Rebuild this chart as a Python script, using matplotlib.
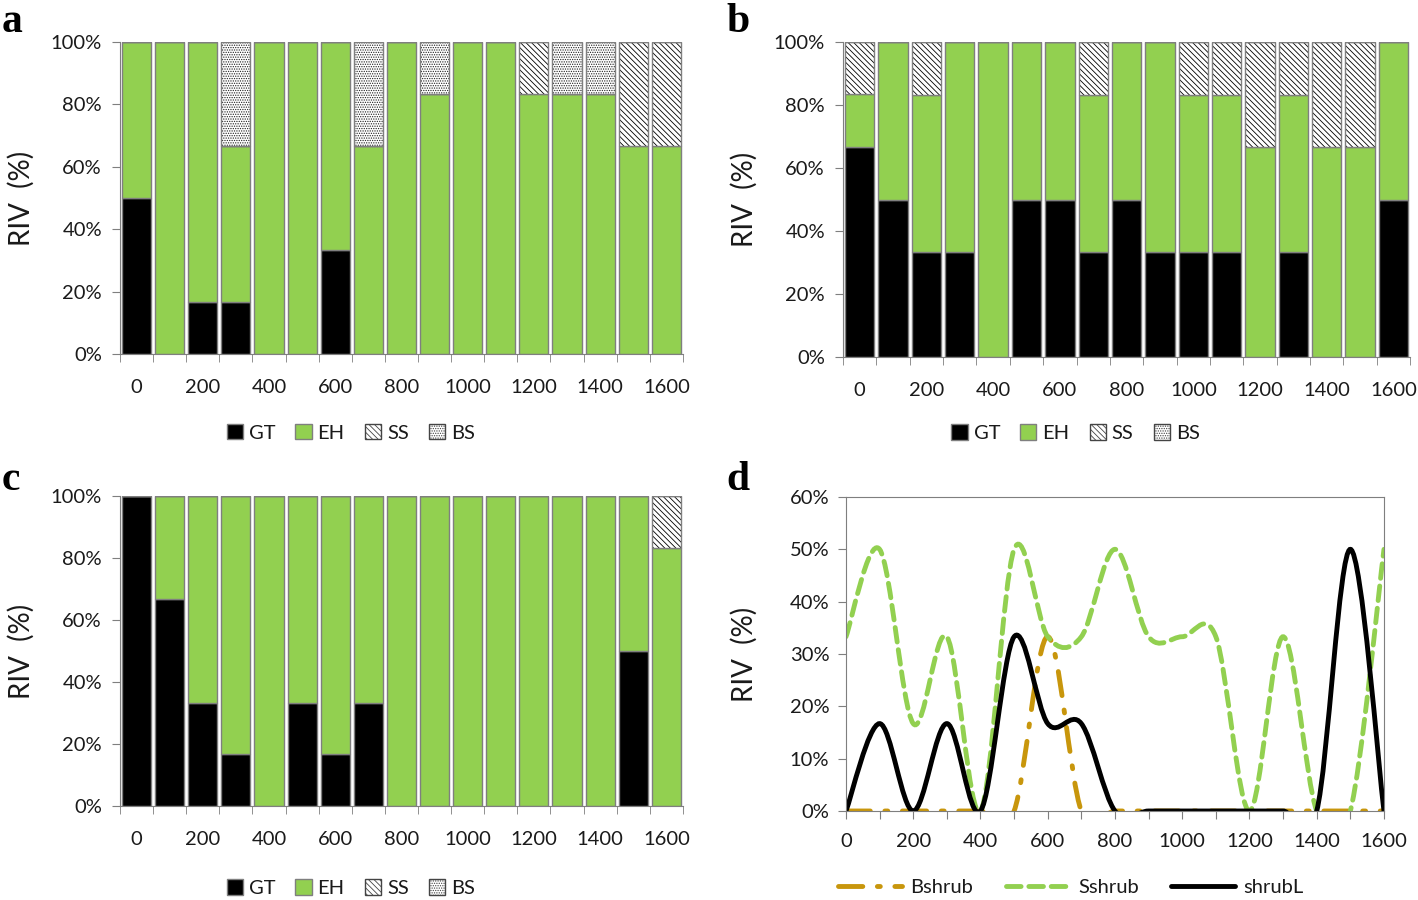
import numpy as np
import matplotlib
matplotlib.use("Agg")
import matplotlib.pyplot as plt
from matplotlib.path import Path
from matplotlib.patches import PathPatch
from matplotlib.lines import Line2D
from matplotlib.patches import Patch

plt.rcParams['font.family'] = ['Lato', 'DejaVu Sans']
plt.rcParams['hatch.linewidth'] = 0.6

# distance classes (0..1600 step 100)
distances = list(range(0, 1700, 100))
xlabels = [str(d) if d % 200 == 0 else '' for d in distances]

# panel a (RIV %)
a_GT = [50, 0, 16.7, 16.7, 0, 0, 33.3, 0, 0, 0, 0, 0, 0, 0, 0, 0, 0]
a_EH = [50, 100, 83.3, 50, 100, 100, 66.7, 66.7, 100, 83.3, 100, 100, 83.3, 83.3, 83.3, 66.7, 66.7]
a_SS = [0, 0, 0, 0, 0, 0, 0, 0, 0, 0, 0, 0, 16.7, 0, 0, 33.3, 33.3]
a_BS = [0, 0, 0, 33.3, 0, 0, 0, 33.3, 0, 16.7, 0, 0, 0, 16.7, 16.7, 0, 0]

# panel b
b_GT = [66.7, 50, 33.3, 33.3, 0, 50, 50, 33.3, 50, 33.3, 33.3, 33.3, 0, 33.3, 0, 0, 50]
b_EH = [16.7, 50, 50, 66.7, 100, 50, 50, 50, 50, 66.7, 50, 50, 66.7, 50, 66.7, 66.7, 50]
b_SS = [16.7, 0, 16.7, 0, 0, 0, 0, 16.7, 0, 0, 16.7, 16.7, 33.3, 16.7, 33.3, 33.3, 0]
b_BS = [0] * 17

# panel c
c_GT = [100, 66.7, 33.3, 16.7, 0, 33.3, 16.7, 33.3, 0, 0, 0, 0, 0, 0, 0, 50, 0]
c_EH = [0, 33.3, 66.7, 83.3, 100, 66.7, 83.3, 66.7, 100, 100, 100, 100, 100, 100, 100, 50, 83.3]
c_SS = [0] * 16 + [16.7]
c_BS = [0] * 17

# panel d (RIV %)
d_Bshrub = [0, 0, 0, 0, 0, 0, 33.3, 0, 0, 0, 0, 0, 0, 0, 0, 0, 0]
d_Sshrub = [33.3, 50, 16.7, 33.3, 0, 50, 33.3, 33.3, 50, 33.3, 33.3, 33.3, 0, 33.3, 0, 0, 50]
d_shrubL = [0, 16.7, 0, 16.7, 0, 33.3, 16.7, 16.7, 0, 0, 0, 0, 0, 0, 0, 50, 0]

GREEN = '#92D050'
GOLD = '#C8960C'
EDGE = '#7F7F7F'
TXT = '#1a1a1a'
SS_HATCH = '\\\\\\\\\\\\'
BS_HATCH = '.......'

fig = plt.figure(figsize=(14.18, 9), dpi=100)


def bar_panel(rect, GT, EH, SS, BS):
    ax = fig.add_axes(rect)
    x = np.arange(len(distances))
    w = 0.88
    ax.bar(x, GT, w, color='black', edgecolor=EDGE, linewidth=1)
    ax.bar(x, EH, w, bottom=GT, color=GREEN, edgecolor=EDGE, linewidth=1)
    bot = np.array(GT) + np.array(EH)
    ax.bar(x, SS, w, bottom=bot, color='white', edgecolor='black', hatch=SS_HATCH, linewidth=0)
    ax.bar(x, SS, w, bottom=bot, fill=False, edgecolor=EDGE, linewidth=1)
    bot2 = bot + np.array(SS)
    ax.bar(x, BS, w, bottom=bot2, color='white', edgecolor='#222222', hatch=BS_HATCH, linewidth=0)
    ax.bar(x, BS, w, bottom=bot2, fill=False, edgecolor=EDGE, linewidth=1)
    ax.set_xlim(-0.5, len(distances) - 0.5)
    ax.set_ylim(0, 100)
    ax.set_yticks(range(0, 101, 20))
    ax.set_yticklabels([f'{v}%' for v in range(0, 101, 20)])
    ax.set_xticks(x)
    ax.set_xticklabels(xlabels)
    ax.set_xticks(np.arange(-0.5, len(distances), 1), minor=True)
    ax.tick_params(axis='x', which='major', length=0, pad=18)
    ax.tick_params(axis='x', which='minor', length=6, color=EDGE, direction='out')
    ax.tick_params(axis='y', length=6, color=EDGE, pad=7)
    ax.tick_params(labelsize=14.5, labelcolor=TXT)
    for s in ['top', 'right']:
        ax.spines[s].set_visible(False)
    for s in ['left', 'bottom']:
        ax.spines[s].set_color(EDGE)
    ax.set_ylabel('RIV  (%)', fontsize=20, color=TXT)
    handles = [Patch(facecolor='black', edgecolor=EDGE),
               Patch(facecolor=GREEN, edgecolor=EDGE),
               Patch(facecolor='white', edgecolor='#444444', hatch=SS_HATCH),
               Patch(facecolor='white', edgecolor='#444444', hatch=BS_HATCH)]
    return ax, handles


def smooth_path(xs, ys):
    # Excel-style smoothed line as cubic Bezier segments
    pts = np.column_stack([xs, ys]).astype(float)
    n = len(pts)
    verts = [pts[0]]
    codes = [Path.MOVETO]
    for i in range(n - 1):
        p0 = pts[max(i - 1, 0)]
        p1 = pts[i]
        p2 = pts[i + 1]
        p3 = pts[min(i + 2, n - 1)]
        c1 = p1 + (p2 - p0) / 6.0
        c2 = p2 - (p3 - p1) / 6.0
        verts += [c1, c2, p2]
        codes += [Path.CURVE4] * 3
    return Path(verts, codes)


axes_rects = {
    'a': [0.0846, 0.6067, 0.397, 0.3467],
    'b': [0.5945, 0.6033, 0.400, 0.350],
    'c': [0.0846, 0.1044, 0.397, 0.3444],
}
data = {
    'a': (a_GT, a_EH, a_SS, a_BS),
    'b': (b_GT, b_EH, b_SS, b_BS),
    'c': (c_GT, c_EH, c_SS, c_BS),
}
leg_y = {'a': -0.253, 'b': -0.241, 'c': -0.265}
lab_x = {'a': -0.151, 'b': -0.150, 'c': -0.151}

for k in ['a', 'b', 'c']:
    ax, handles = bar_panel(axes_rects[k], *data[k])
    ax.yaxis.set_label_coords(lab_x[k], 0.5)
    ax.legend(handles, ['GT', 'EH', 'SS', 'BS'], loc='center',
              bbox_to_anchor=(0.41, leg_y[k]), ncol=4, frameon=False,
              fontsize=14.5, handlelength=0.8, handleheight=0.8,
              handletextpad=0.3, columnspacing=1.0, labelcolor=TXT)

# panel d
axd = fig.add_axes([0.5966, 0.0989, 0.3794, 0.3489])
series = [
    (d_Bshrub, GOLD, (0, (5, 3, 0.6, 3)), 'Bshrub'),
    (d_Sshrub, GREEN, (0, (3, 1.6)), 'Sshrub'),
    (d_shrubL, 'black', '-', 'shrubL'),
]
leg_handles = []
for ys, col, ls, name in series:
    p = PathPatch(smooth_path(distances, ys), fill=False, edgecolor=col,
                  linewidth=3.5, linestyle=ls, capstyle='round')
    axd.add_patch(p)
    leg_handles.append(Line2D([], [], color=col, lw=3.5, linestyle=ls,
                              solid_capstyle='round', dash_capstyle='round'))
axd.set_xlim(0, 1600)
axd.set_ylim(0, 60)
axd.set_xticks(range(0, 1601, 100))
axd.set_xticklabels(xlabels)
axd.set_yticks(range(0, 61, 10))
axd.set_yticklabels([f'{v}%' for v in range(0, 61, 10)])
axd.tick_params(axis='x', length=6, color=EDGE, pad=10)
axd.tick_params(axis='y', length=6, color=EDGE, pad=6)
axd.tick_params(labelsize=14.5, labelcolor=TXT)
for s in axd.spines.values():
    s.set_color(EDGE)
axd.set_ylabel('RIV  (%)', fontsize=20, color=TXT)
axd.yaxis.set_label_coords(-0.164, 0.5)
axd.legend(leg_handles, ['Bshrub', 'Sshrub', 'shrubL'], loc='center',
           bbox_to_anchor=(0.418, -0.245), ncol=3, frameon=False, fontsize=14.5,
           handlelength=3.2, handletextpad=0.4, columnspacing=1.6, labelcolor=TXT)

# panel letters
for lab, (xf, yf) in {'a': (0.001, 0.975), 'b': (0.512, 0.975),
                      'c': (0.001, 0.467), 'd': (0.512, 0.467)}.items():
    fig.text(xf, yf, lab, fontsize=30, fontweight='bold', va='center', ha='left',
             family=['Liberation Serif', 'DejaVu Serif'], color='black')

fig.savefig('out.png', dpi=100, facecolor='white')
